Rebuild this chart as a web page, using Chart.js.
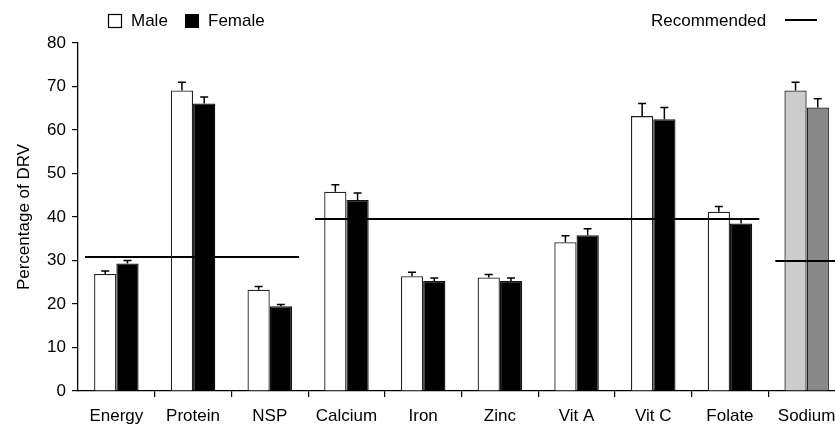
<!DOCTYPE html>
<html>
<head>
<meta charset="utf-8">
<script src="https://cdn.jsdelivr.net/npm/chart.js@4/dist/chart.umd.min.js"></script>
<style>
  html, body { margin: 0; padding: 0; background: #fff; overflow: hidden; }
  #wrap { position: relative; width: 845px; height: 425px; }
</style>
</head>
<body>
<div id="wrap"><canvas id="c" width="845" height="425"></canvas></div>
<script>
// ── data ──
const categories = ['Energy', 'Protein', 'NSP', 'Calcium', 'Iron', 'Zinc', 'Vit A', 'Vit C', 'Folate', 'Sodium'];
const maleValues   = [26.9, 69.1, 23.3, 45.8, 26.4, 26.1, 34.2, 63.2, 41.2, 69.1];
const maleErrors   = [0.7, 1.9, 0.7, 1.6, 0.9, 0.7, 1.5, 2.9, 1.2, 1.9];
const femaleValues = [29.3, 66.1, 19.5, 43.9, 25.3, 25.3, 35.8, 62.5, 38.5, 65.2];
const femaleErrors = [0.7, 1.5, 0.4, 1.6, 0.7, 0.7, 1.5, 2.7, 1.1, 2.0];
const recommended  = [30.7, 30.7, 30.7, 39.6, 39.6, 39.6, 39.6, 39.6, 39.6, 30.0];
const yTicks = [0, 10, 20, 30, 40, 50, 60, 70, 80];

const FONT = "'Liberation Sans', Arial, Helvetica, sans-serif";
Chart.defaults.font.family = FONT;
Chart.defaults.font.size = 17;
Chart.defaults.color = '#000';

const isSodium = c => c === 'Sodium';

// error bars: stem + cap above each bar
const errorBars = {
  id: 'errorBars',
  afterDatasetsDraw(chart) {
    const { ctx, scales: { y } } = chart;
    ctx.save();
    ctx.strokeStyle = '#000';
    ctx.lineWidth = 1.5;
    chart.data.datasets.forEach((ds, di) => {
      if (!ds.errors) return;
      chart.getDatasetMeta(di).data.forEach((bar, i) => {
        const top = y.getPixelForValue(ds.data[i] + ds.errors[i]);
        ctx.beginPath();
        ctx.moveTo(bar.x, bar.y);
        ctx.lineTo(bar.x, top);
        ctx.moveTo(bar.x - 4, top);
        ctx.lineTo(bar.x + 4, top);
        ctx.stroke();
      });
    });
    ctx.restore();
  }
};

// recommended level: one segment per run of equal values
const recLines = {
  id: 'recLines',
  afterDatasetsDraw(chart) {
    const { ctx, scales: { x, y } } = chart;
    const step = x.getPixelForValue(1) - x.getPixelForValue(0);
    ctx.save();
    ctx.strokeStyle = '#000';
    ctx.lineWidth = 2;
    let start = 0;
    for (let i = 1; i <= recommended.length; i++) {
      if (i === recommended.length || recommended[i] !== recommended[start]) {
        const x0 = x.getPixelForValue(start) - step / 2 + 7;
        const x1 = x.getPixelForValue(i - 1) + step / 2 - 9;
        const py = Math.round(y.getPixelForValue(recommended[start]));
        ctx.beginPath();
        ctx.moveTo(x0, py);
        ctx.lineTo(x1, py);
        ctx.stroke();
        start = i;
      }
    }
    ctx.restore();
  }
};

// legend row along the top
const topLegend = {
  id: 'topLegend',
  afterDraw(chart) {
    const { ctx } = chart;
    ctx.save();
    ctx.font = '17px ' + FONT;
    ctx.textBaseline = 'middle';
    ctx.lineWidth = 1.2;
    ctx.strokeStyle = '#000';
    // Male
    ctx.fillStyle = '#fff';
    ctx.fillRect(108.5, 14.5, 13, 13);
    ctx.strokeRect(108.5, 14.5, 13, 13);
    ctx.fillStyle = '#000';
    ctx.fillText('Male', 131, 21);
    // Female
    ctx.fillRect(185, 14, 14, 14);
    ctx.fillText('Female', 208, 21);
    // Recommended
    ctx.fillText('Recommended', 651, 21);
    ctx.lineWidth = 2;
    ctx.beginPath();
    ctx.moveTo(785, 20);
    ctx.lineTo(817, 20);
    ctx.stroke();
    ctx.restore();
  }
};

new Chart(document.getElementById('c'), {
  type: 'bar',
  data: {
    labels: categories,
    datasets: [
      {
        label: 'Male',
        data: maleValues,
        errors: maleErrors,
        backgroundColor: categories.map(c => isSodium(c) ? '#cccccc' : '#ffffff'),
        borderColor: '#222',
        borderWidth: 1.3,
        categoryPercentage: 0.58,
        barPercentage: 1.0,
      },
      {
        label: 'Female',
        data: femaleValues,
        errors: femaleErrors,
        backgroundColor: categories.map(c => isSodium(c) ? '#888888' : '#000000'),
        borderColor: '#111',
        borderWidth: 1.3,
        categoryPercentage: 0.58,
        barPercentage: 1.0,
      },
    ],
  },
  options: {
    responsive: false,
    devicePixelRatio: 1,
    animation: false,
    layout: { padding: { top: 43, left: 0, right: 0, bottom: 0 } },
    plugins: { legend: { display: false }, tooltip: { enabled: false } },
    scales: {
      x: {
        offset: true,
        grid: {
          offset: true,
          drawOnChartArea: false,
          drawTicks: true,
          tickLength: 6,
          color: ctx => ctx.index === 0 ? 'rgba(0,0,0,0)' : '#000',
          lineWidth: 1.2,
        },
        border: { display: true, color: '#000', width: 1.3 },
        ticks: { color: '#000', padding: 9, maxRotation: 0, autoSkip: false, font: { size: 17 } },
        afterFit(s) { s.height = 34; },
      },
      y: {
        min: 0,
        max: 80,
        afterBuildTicks(s) { s.ticks = yTicks.map(v => ({ value: v })); },
        grid: { drawOnChartArea: false, drawTicks: true, tickLength: 6, color: '#000', lineWidth: 1.2 },
        border: { display: true, color: '#000', width: 1.3 },
        ticks: { color: '#000', padding: 6, font: { size: 17 } },
        title: {
          display: true,
          text: 'Percentage of DRV',
          color: '#000',
          font: { size: 17 },
          padding: { top: 14, bottom: 0 },
        },
        afterFit(s) { s.width = 78; },
      },
    },
  },
  plugins: [errorBars, recLines, topLegend],
});
</script>
</body>
</html>
